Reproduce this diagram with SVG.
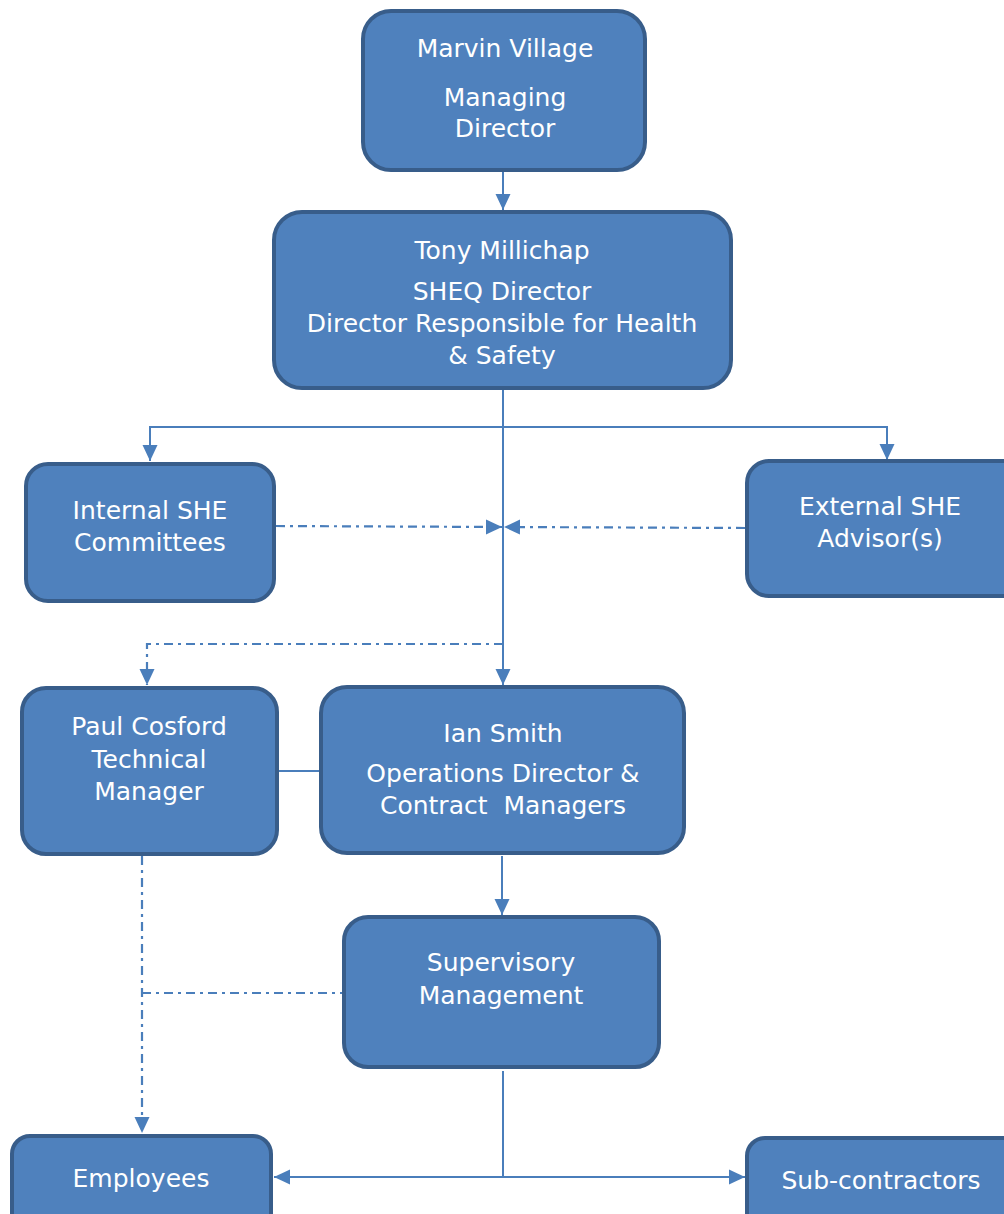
<svg xmlns="http://www.w3.org/2000/svg" width="1004" height="1214" viewBox="0 0 1004 1214">
<defs>
<style>
.box{fill:#4F81BD;stroke:#385D8A;stroke-width:4}
.t{font-family:"DejaVu Sans","Liberation Sans",sans-serif;font-size:25px;fill:#FFFFFF;text-anchor:middle}
.c{fill:none;stroke:#4A7EBB;stroke-width:2}
.d{fill:none;stroke:#4A7EBB;stroke-width:2.2;stroke-dasharray:9 5 3 5}
</style>
<marker id="ah" markerUnits="userSpaceOnUse" markerWidth="18" markerHeight="18" viewBox="0 0 18 18" refX="16" refY="9" orient="auto">
<path d="M0,1.5 L16,9 L0,16.5 Z" fill="#4A7EBB"/>
</marker>
</defs>
<rect width="1004" height="1214" fill="#FFFFFF"/>
<g id="connectors">
<line class="c" x1="503" y1="170" x2="503" y2="210" marker-end="url(#ah)"/>
<line class="c" x1="503" y1="389" x2="503" y2="685" marker-end="url(#ah)"/>
<polyline class="c" points="150,461 150,427 887,427 887,460" marker-end="url(#ah)"/>
<line class="c" x1="150" y1="430" x2="150" y2="461" marker-end="url(#ah)"/>
<line class="d" x1="276" y1="526" x2="502" y2="527" marker-end="url(#ah)"/>
<line class="d" x1="745" y1="528" x2="504" y2="527" marker-end="url(#ah)"/>
<polyline class="d" points="503,644 147,644 147,685" marker-end="url(#ah)"/>
<line class="c" x1="278" y1="771" x2="320" y2="771"/>
<line class="c" x1="502" y1="856" x2="502" y2="915" marker-end="url(#ah)"/>
<line class="d" x1="142" y1="856" x2="142" y2="1133" marker-end="url(#ah)"/>
<line class="d" x1="142" y1="993" x2="343" y2="993"/>
<line class="c" x1="503" y1="1071" x2="503" y2="1177"/>
<line class="c" x1="503" y1="1177" x2="274" y2="1177" marker-end="url(#ah)"/>
<line class="c" x1="503" y1="1177" x2="745" y2="1177" marker-end="url(#ah)"/>
</g>
<g id="marvin">
<rect class="box" x="363" y="11" width="282" height="159" rx="28"/>
<text class="t" x="505" y="57">Marvin Village</text>
<text class="t" x="505" y="106">Managing</text>
<text class="t" x="505" y="137">Director</text>
</g>
<g id="tony">
<rect class="box" x="274" y="212" width="457" height="176" rx="28"/>
<text class="t" x="502" y="259">Tony Millichap</text>
<text class="t" x="502" y="300">SHEQ Director</text>
<text class="t" x="502" y="332">Director Responsible for Health</text>
<text class="t" x="502" y="364">&amp; Safety</text>
</g>
<g id="internal">
<rect class="box" x="26" y="464" width="248" height="137" rx="22"/>
<text class="t" x="150" y="519">Internal SHE</text>
<text class="t" x="150" y="551">Committees</text>
</g>
<g id="external">
<rect class="box" x="747" y="461" width="280" height="135" rx="22"/>
<text class="t" x="880" y="515">External SHE</text>
<text class="t" x="880" y="547">Advisor(s)</text>
</g>
<g id="paul">
<rect class="box" x="22" y="688" width="255" height="166" rx="24"/>
<text class="t" x="149" y="735">Paul Cosford</text>
<text class="t" x="149" y="768">Technical</text>
<text class="t" x="149" y="800">Manager</text>
</g>
<g id="ian">
<rect class="box" x="321" y="687" width="363" height="166" rx="26"/>
<text class="t" x="503" y="742">Ian Smith</text>
<text class="t" x="503" y="782">Operations Director &amp;</text>
<text class="t" x="503" y="814" xml:space="preserve">Contract  Managers</text>
</g>
<g id="supervisory">
<rect class="box" x="344" y="917" width="315" height="150" rx="24"/>
<text class="t" x="501" y="971">Supervisory</text>
<text class="t" x="501" y="1004">Management</text>
</g>
<g id="employees">
<rect class="box" x="12" y="1136" width="259" height="100" rx="18"/>
<text class="t" x="141" y="1187">Employees</text>
</g>
<g id="subcontractors">
<rect class="box" x="747" y="1138" width="280" height="100" rx="18"/>
<text class="t" x="881" y="1189">Sub-contractors</text>
</g>
</svg>
